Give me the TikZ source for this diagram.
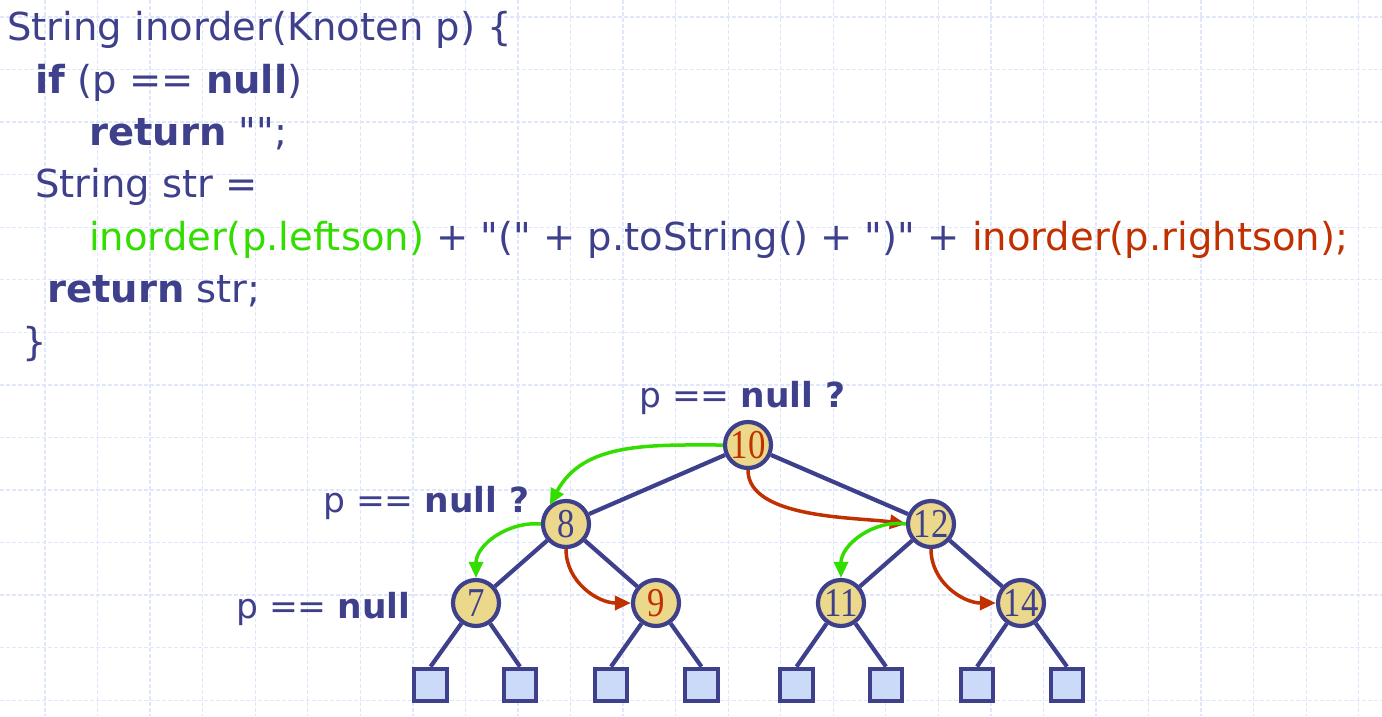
\documentclass[tikz,border=0pt]{standalone}
\usepackage{fontspec}
\setmainfont{DejaVu Sans}[Ligatures=TeXOff]
\newfontfamily\numfont[FakeStretch=0.85]{Liberation Serif}
\usetikzlibrary{arrows.meta}
\definecolor{navy}{RGB}{62,64,140}
\definecolor{codegreen}{RGB}{51,221,0}
\definecolor{codered}{RGB}{192,48,0}
\definecolor{nodefill}{RGB}{236,216,138}
\definecolor{leaffill}{RGB}{204,218,250}
\definecolor{gridc}{RGB}{224,231,252}
\tikzset{
 code/.style={anchor=base west, inner sep=0pt, text=navy, font=\fontsize{38.5}{46}\selectfont},
 lbl/.style={anchor=base west, inner sep=0pt, text=navy, font=\fontsize{34.5}{40}\selectfont},
 inode/.style={circle, draw=navy, fill=nodefill, line width=4.2pt, minimum size=46pt, inner sep=0pt, text=navy, font=\numfont\fontsize{41}{44}\selectfont},
 leaf/.style={rectangle, draw=navy, fill=leaffill, line width=4.2pt, minimum size=32.5pt, inner sep=0pt},
 edge/.style={draw=navy, line width=4.2pt},
 garrow/.style={draw=codegreen, line width=3.5pt, -{Triangle[length=16pt,width=14pt]}},
 rarrow/.style={draw=codered, line width=3.5pt, -{Triangle[length=16pt,width=14pt]}},
 gridline/.style={draw=gridc, line width=1.3pt, dash pattern=on 4pt off 2pt}
}
\begin{document}
\begin{tikzpicture}[x=1pt,y=1pt]
\useasboundingbox (0,0) rectangle (1382,-716);
\fill[white] (0,0) rectangle (1382,-716);
\foreach \i in {0,...,25} \draw[gridline] ({45+52.55*\i},0) -- ({45+52.55*\i},-716);
\foreach \j in {0,...,13} \draw[gridline] (0,{-17-52.55*\j}) -- (1382,{-17-52.55*\j});

% code
\node[code] (c1) at (7,-40) {String inorder(Knoten p) \{};
\node[code] (c2) at (35,-93) {\textbf{if} (p == \textbf{null})};
\node[code] (c3) at (89,-145) {\textbf{return} "";};
\node[code] (c4) at (35,-197) {String str =};
\node[code] (c5) at (89,-250) {\textcolor{codegreen}{inorder(p.leftson)} + "(" + p.toString() + ")" + \textcolor{codered}{inorder(p.rightson);}};
\node[code] (c6) at (47,-302) {\textbf{return} str;};
\node[code] (c7) at (22,-355) {\}};

% labels
\node[lbl] (q1) at (639,-407) {p == \textbf{null ?}};
\node[lbl] (q2) at (323,-512) {p == \textbf{null ?}};
\node[lbl] (q3) at (236,-618) {p == \textbf{null}};

% tree nodes
\node[inode, text=codered] (n10) at (748,-445) {10};
\node[inode] (n8) at (566,-524) {8};
\node[inode] (n12) at (931,-524) {12};
\node[inode] (n7) at (476,-603) {7};
\node[inode, text=codered] (n9) at (656,-603) {9};
\node[inode] (n11) at (841,-603) {11};
\node[inode] (n14) at (1021,-603) {14};
\foreach \k/\x in {1/430.5,2/520,3/611,4/701.5,5/796.5,6/886,7/977,8/1067}
  \node[leaf] (l\k) at (\x,-685) {};

% edges
\draw[edge] (n10) -- (n8);
\draw[edge] (n10) -- (n12);
\draw[edge] (n8) -- (n7);
\draw[edge] (n8) -- (n9);
\draw[edge] (n12) -- (n11);
\draw[edge] (n12) -- (n14);
\draw[edge] (n7) -- (l1.north);
\draw[edge] (n7) -- (l2.north);
\draw[edge] (n9) -- (l3.north);
\draw[edge] (n9) -- (l4.north);
\draw[edge] (n11) -- (l5.north);
\draw[edge] (n11) -- (l6.north);
\draw[edge] (n14) -- (l7.north);
\draw[edge] (n14) -- (l8.north);

% traversal arrows
\draw[garrow] (n10.west) to[out=180,in=62] (n8.130);
\draw[rarrow] (n10.south) to[out=-90,in=172,looseness=0.75] (n12.west);
\draw[garrow] (n8.west) to[out=175,in=90] (n7.north);
\draw[rarrow] (n8.south) to[out=-90,in=180] (n9.west);
\draw[garrow] (n12.west) to[out=172,in=90] (n11.north);
\draw[rarrow] (n12.south) to[out=-90,in=180] (n14.west);
\end{tikzpicture}
\end{document}
